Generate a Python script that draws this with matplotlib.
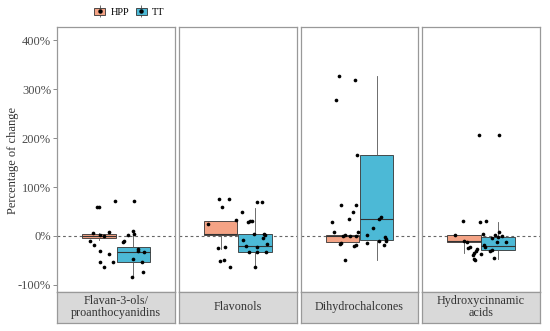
import matplotlib
matplotlib.use('Agg')
import matplotlib.pyplot as plt
from matplotlib.patches import Patch
from matplotlib.lines import Line2D
from matplotlib.ticker import FuncFormatter
from matplotlib.legend_handler import HandlerTuple

# categories (facet panels) and groups
panels = ['Flavan-3-ols/\nproanthocyanidins', 'Flavonols', 'Dihydrochalcones',
          'Hydroxycinnamic\nacids']
groups = ['HPP', 'TT']

# box statistics per panel: [HPP, TT]
whislo = [[-9, -84], [-27, -63], [-12, -48], [-35, -46]]
q1 = [[-5, -54], [2, -32], [-12, -9], [-13, -28]]
med = [[0, -32], [4, -20], [0, 35], [-10, -21]]
q3 = [[4, -23], [30, 5], [2, 165], [3, -3]]
whishi = [[6, 2], [30, 58], [2, 327], [3, 29]]

# observed points (x = jittered position within panel, y = % change)
pts_x = [
    [-0.194, -0.174, -0.010, -0.235, -0.072, -0.269, -0.228, -0.166, -0.078,
     -0.166, -0.037, -0.129, -0.166, -0.126,
     0.120, 0.079, 0.065, 0.174, 0.181, 0.219, 0.225, 0.283, 0.168, 0.259,
     0.276, 0.160, 0.181],
    [-0.191, -0.092, -0.163, -0.023, -0.306, -0.197, -0.133, -0.184, -0.143,
     -0.082,
     0.041, 0.105, 0.123, 0.143, 0.191, 0.242, 0.166, 0.269, 0.276, 0.048,
     0.255, 0.079, 0.191, 0.293, 0.115, 0.191, 0.286, 0.180],
    [-0.204, -0.041, -0.241, -0.027, -0.184, -0.034, -0.067, -0.108, -0.282,
     -0.258, -0.166, -0.149, -0.095, -0.037, -0.010, -0.197, -0.187, -0.051,
     -0.037, -0.143,
     0.198, 0.222, 0.137, 0.076, 0.076, 0.198, 0.263, 0.270, 0.270, 0.249],
    [-0.181, -0.013, -0.266, -0.171, -0.146, -0.130, -0.112, -0.044, -0.054,
     -0.075, -0.003, -0.079, -0.068, -0.058, -0.020,
     0.048, 0.023, 0.143, 0.184, 0.109, 0.171, 0.218, 0.160, 0.252, 0.031,
     0.041, 0.092, 0.115, 0.130, 0.187],
]
pts_y = [
    [59, 59, 71, 7, 8, -10, -19, -30, -36, -53, -53, -63, 3, 1,
     3, -10, -12, 10, 5, -27, -31, -33, -47, -53, -73, -84, 71],
    [75, 75, 59, 33, 24, -24, -22, -52, -48, -63,
     50, 29, 31, 31, 69, 69, 4, 5, 3, -9, -5, -20, -22, -16, -32, -32, -32, -63],
    [327, 318, 277, 166, 63, 63, 49, 34, 29, 8, 0, 2, 1, 1, 8, -16, -15, -20,
     -18, -48,
     34, 39, 16, 3, -14, -10, -2, -6, -10, -19],
    [30, 29, 3, -11, -12, -24, -23, -27, -31, -35, -37, -39, -47, -48, 206,
     30, 5, 3, 8, -5, -3, 0, -12, -13, -18, -23, -30, -29, -44, 206],
]

colors = {'HPP': '#F4A385', 'TT': '#4CB9D6'}
offsets = [-0.175, 0.175]
serif = ['Liberation Serif', 'DejaVu Serif']

W, H = 550, 331
fig = plt.figure(figsize=(W / 100, H / 100), dpi=100)
plt.rcParams['font.family'] = serif

top, bottom, strip_bottom = 27.3, 291.7, 323
left0, width, gap = 57.3, 117.8, 3.8

for i, name in enumerate(panels):
    left = left0 + i * (width + gap)
    ax = fig.add_axes([left / W, (H - bottom) / H, width / W, (bottom - top) / H])
    ax.set_xlim(0.4, 1.6)
    ax.set_ylim(-113.7, 426)
    ax.axhline(0, color='#666666', ls=(0, (2.5, 2.5)), lw=0.8, zorder=1)

    stats = []
    for g in range(2):
        stats.append({'whislo': whislo[i][g], 'q1': q1[i][g], 'med': med[i][g],
                      'q3': q3[i][g], 'whishi': whishi[i][g], 'fliers': []})
    bp = ax.bxp(stats, positions=[1 + o for o in offsets], widths=0.34,
                showcaps=False, showfliers=False, patch_artist=True,
                boxprops=dict(edgecolor='#333333', linewidth=0.6),
                whiskerprops=dict(color='#555555', linewidth=0.6),
                medianprops=dict(color='#333333', linewidth=0.8),
                zorder=2)
    for patch, g in zip(bp['boxes'], groups):
        patch.set_facecolor(colors[g])

    ax.scatter([1 + x for x in pts_x[i]], pts_y[i], s=7, color='black',
               zorder=3, linewidths=0)

    ax.set_xticks([])
    ax.set_yticks([-100, 0, 100, 200, 300, 400])
    for sp in ax.spines.values():
        sp.set_color('#999999')
        sp.set_linewidth(0.9)
    if i == 0:
        ax.yaxis.set_major_formatter(FuncFormatter(lambda v, p: f'{v:.0f}%'))
        ax.tick_params(axis='y', length=3, width=0.6, color='#777777',
                       labelsize=9, labelcolor='#4D4D4D', pad=1.5)
    else:
        ax.tick_params(axis='y', length=0, labelleft=False)

    sax = fig.add_axes([left / W, (H - strip_bottom) / H, width / W,
                        (strip_bottom - bottom) / H])
    sax.set_facecolor('#D9D9D9')
    sax.set_xticks([])
    sax.set_yticks([])
    for sp in sax.spines.values():
        sp.set_color('#999999')
        sp.set_linewidth(0.9)
    sax.text(0.5, 0.5, name, ha='center', va='center', fontsize=8.7,
             color='#333333', linespacing=1.0, transform=sax.transAxes)

fig.text(13.5 / W, 1 - 160 / H, 'Percentage of change', rotation=90,
         ha='center', va='center', fontsize=9, color='#333333')

handles = []
for g in groups:
    handles.append((Line2D([], [], marker='|', color='#555555', markersize=8,
                           markeredgewidth=0.6, linestyle='none'),
                    Patch(facecolor=colors[g], edgecolor='#333333', linewidth=0.6),
                    Line2D([], [], marker='o', color='black', markersize=2.2,
                           linestyle='none')))
fig.legend(handles, groups, loc='center left', bbox_to_anchor=(94 / W, 1 - 12.5 / H),
           ncol=2, frameon=False, fontsize=7.5, handlelength=1.1,
           handleheight=0.7, handletextpad=0.5, columnspacing=0.6,
           borderaxespad=0, borderpad=0,
           handler_map={tuple: HandlerTuple(ndivide=1, pad=0)})

fig.savefig('out.png', dpi=100)
